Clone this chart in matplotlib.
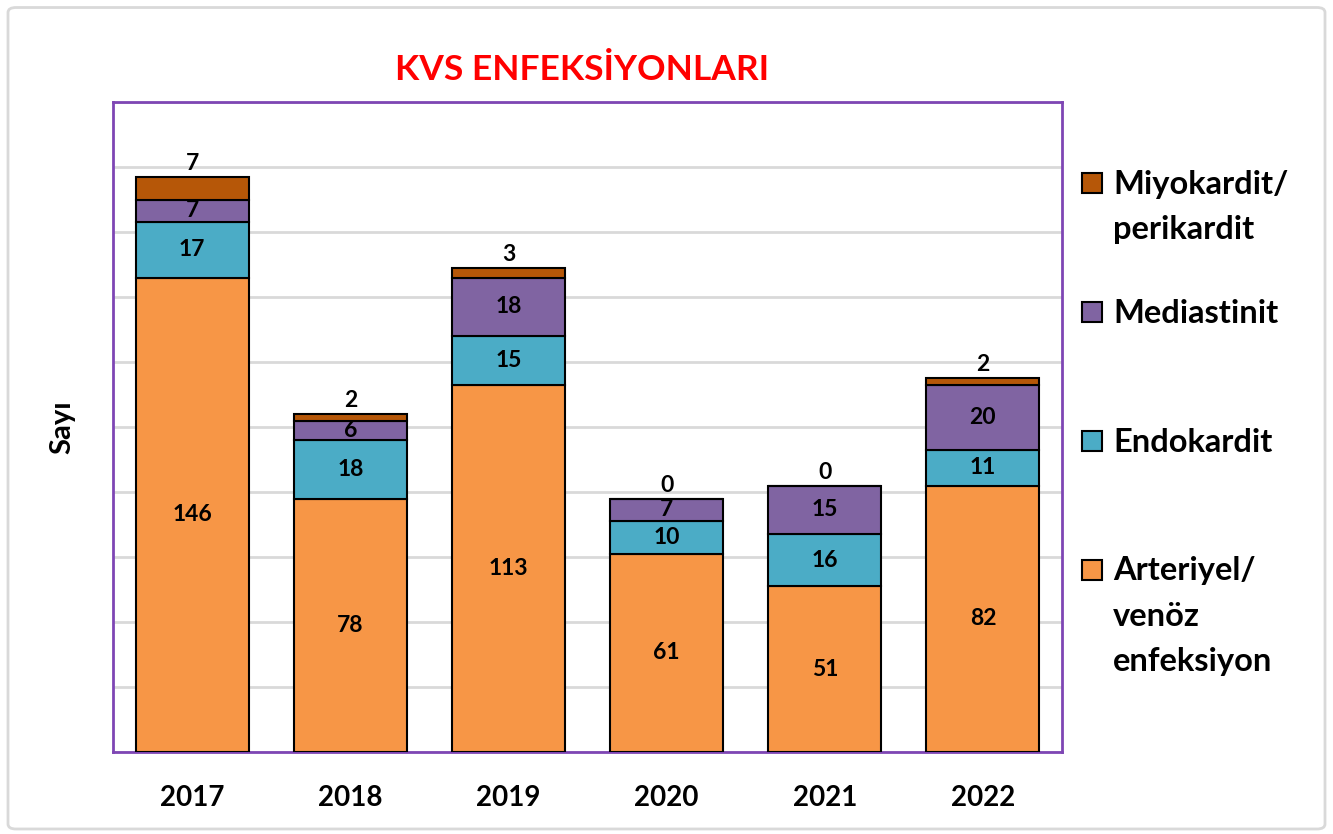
import numpy as np
import matplotlib
matplotlib.use("Agg")
from matplotlib import pyplot as plt
from matplotlib.patches import FancyBboxPatch, Rectangle

plt.rcParams["font.family"] = ["Lato", "DejaVu Sans"]
plt.rcParams["font.weight"] = "bold"

years = ["2017", "2018", "2019", "2020", "2021", "2022"]
arteriyel = [146, 78, 113, 61, 51, 82]
endokardit = [17, 18, 15, 10, 16, 11]
mediastinit = [7, 6, 18, 7, 15, 20]
miyokardit = [7, 2, 3, 0, 0, 2]

series = [
    ("Arteriyel/\nvenöz\nenfeksiyon", arteriyel, "#F79646"),
    ("Endokardit", endokardit, "#4BACC6"),
    ("Mediastinit", mediastinit, "#8064A2"),
    ("Miyokardit/\nperikardit", miyokardit, "#B65708"),
]

fig = plt.figure(figsize=(13.33, 8.34), dpi=100)
ax = fig.add_axes([0.0848, 0.0983, 0.7119, 0.7794])

# outer light grey frame
frame = FancyBboxPatch((0.006, 0.006), 0.988, 0.985, boxstyle="round,pad=0,rounding_size=0.006",
                       transform=fig.transFigure, facecolor="none", edgecolor="#D9D9D9", lw=2)
fig.add_artist(frame)

x = np.arange(len(years))
bottom = np.zeros(len(years))
for i, (name, vals, color) in enumerate(series):
    bars = ax.bar(x, vals, width=0.715, bottom=bottom, color=color, edgecolor="black", lw=1.5, zorder=3)
    if i < len(series) - 1:
        ax.bar_label(bars, labels=[str(v) for v in vals], label_type="center",
                     fontsize=16.5, fontweight="bold", zorder=4)
    else:
        ax.bar_label(bars, labels=[str(v) for v in vals], label_type="edge", padding=2,
                     fontsize=16.5, fontweight="bold", zorder=4)
    bottom += np.array(vals)

ax.set_xlim(-0.5, len(years) - 0.5)
ax.set_ylim(0, 200)
ax.set_yticks(np.arange(0, 201, 20))
ax.set_yticklabels([])
ax.tick_params(axis="y", length=0)
ax.tick_params(axis="x", length=0, pad=24, labelsize=20)
ax.set_xticks(x)
ax.set_xticklabels(years, fontweight="bold")
ax.grid(axis="y", color="#D9D9D9", lw=2, zorder=0)
ax.set_axisbelow(True)
for sp in ax.spines.values():
    sp.set_color("#7E46B4")
    sp.set_linewidth(2)

ax.set_ylabel("Sayı", fontsize=21, fontweight="bold")
ax.yaxis.set_label_coords(-0.04, 0.5)

fig.text(0.4366, 0.916, "KVS ENFEKSİYONLARI", color="#FF0000", fontsize=25.5,
         fontweight="bold", ha="center", va="center")

# legend, reversed order, square aligned with first text line
leg_top = 1 - 183 / 834
leg_step = 129 / 834
line_step = 45 / 834
for k, (name, _, color) in enumerate(series[::-1]):
    yc = leg_top - k * leg_step
    n_extra = name.count("\n")
    fig.add_artist(Rectangle((1082 / 1333, yc - 10 / 834), 20 / 1333, 20 / 834,
                             transform=fig.transFigure, facecolor=color,
                             edgecolor="black", lw=1.5))
    fig.text(1113 / 1333, yc - 11 / 834 - n_extra * line_step, name, fontsize=23.5,
             fontweight="bold", ha="left", va="baseline", linespacing=1.68)

fig.savefig("out.png", dpi=100)
